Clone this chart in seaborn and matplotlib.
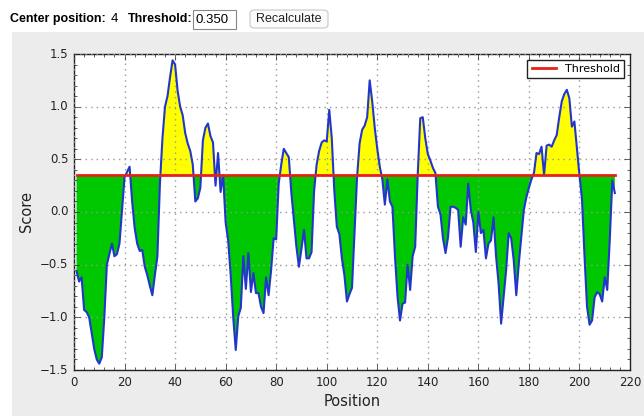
import numpy as np
import pandas as pd
import matplotlib
matplotlib.use("Agg")
import matplotlib.pyplot as plt
from matplotlib.patches import Rectangle, FancyBboxPatch
from matplotlib.ticker import AutoMinorLocator
import seaborn as sns

center_position = 4
threshold = 0.35

positions = list(range(1, 215))
scores = [
    -0.56, -0.66, -0.62, -0.93, -0.95, -1.00, -1.15, -1.30, -1.40, -1.44,
    -1.38, -1.00, -0.50, -0.40, -0.30, -0.42, -0.40, -0.30, 0.02, 0.33,
    0.38, 0.43, 0.10, -0.15, -0.30, -0.37, -0.36, -0.52, -0.60, -0.70,
    -0.79, -0.60, -0.42, 0.27, 0.70, 1.00, 1.10, 1.28, 1.44, 1.40,
    1.15, 1.00, 0.92, 0.75, 0.65, 0.58, 0.45, 0.10, 0.13, 0.23,
    0.68, 0.80, 0.84, 0.72, 0.66, 0.25, 0.56, 0.19, 0.35, -0.10,
    -0.27, -0.60, -1.00, -1.31, -0.99, -0.91, -0.42, -0.73, -0.39, -0.76,
    -0.58, -0.77, -0.77, -0.90, -0.96, -0.62, -0.79, -0.55, -0.25, -0.26,
    0.27, 0.45, 0.60, 0.56, 0.52, 0.18, -0.08, -0.33, -0.52, -0.35,
    -0.17, -0.44, -0.44, -0.38, 0.20, 0.45, 0.58, 0.66, 0.68, 0.67,
    0.97, 0.70, 0.20, -0.14, -0.21, -0.44, -0.60, -0.85, -0.78, -0.72,
    -0.20, 0.33, 0.65, 0.78, 0.82, 0.90, 1.25, 1.05, 0.80, 0.60,
    0.43, 0.31, 0.07, 0.31, 0.10, 0.05, -0.42, -0.80, -1.03, -0.87,
    -0.86, -0.50, -0.74, -0.42, -0.33, 0.35, 0.89, 0.90, 0.70, 0.55,
    0.49, 0.42, 0.37, 0.05, -0.02, -0.25, -0.39, -0.24, 0.05, 0.05,
    0.04, 0.02, -0.33, -0.05, -0.12, 0.27, 0.02, -0.10, -0.38, 0.00,
    -0.20, -0.17, -0.44, -0.30, -0.27, -0.05, -0.42, -0.68, -1.06, -0.81,
    -0.55, -0.20, -0.25, -0.46, -0.79, -0.49, -0.24, 0.02, 0.14, 0.23,
    0.31, 0.37, 0.56, 0.55, 0.62, 0.35, 0.63, 0.64, 0.62, 0.68,
    0.73, 0.90, 1.05, 1.12, 1.16, 1.08, 0.81, 0.86, 0.60, 0.35,
    0.12, -0.42, -0.90, -1.07, -1.03, -0.81, -0.76, -0.78, -0.85, -0.62,
    -0.74, -0.26, 0.30, 0.18,
]
x_ticks = list(range(0, 221, 20))
y_ticks = [-1.5, -1.0, -0.5, 0.0, 0.5, 1.0, 1.5]

df = pd.DataFrame({"Position": positions, "Score": scores})
df["Threshold"] = threshold

plt.style.use("classic")
W, H = 644, 416
fig = plt.figure(figsize=(W / 100, H / 100), dpi=100, facecolor="white")

# gray panel behind the chart
fig.patches.append(Rectangle((12 / W, 0), 1 - 12 / W, (H - 32) / H,
                             transform=fig.transFigure, facecolor="#ececec",
                             edgecolor="none", zorder=-5))

ax = fig.add_axes([74 / W, 1 - 370 / H, (630 - 74) / W, (370 - 54) / H])
ax.set_zorder(1)
ax.set_facecolor("white")

xv = df["Position"].to_numpy()
yv = df["Score"].to_numpy()
ax.fill_between(xv, yv, threshold, where=yv >= threshold, interpolate=True,
                color="#ffff00", linewidth=0, zorder=1)
ax.fill_between(xv, yv, threshold, where=yv <= threshold, interpolate=True,
                color="#00c800", linewidth=0, zorder=1)
sns.lineplot(data=df, x="Position", y="Score", ax=ax, color="#2236cc",
             linewidth=1.5, zorder=3, legend=False)
sns.lineplot(data=df, x="Position", y="Threshold", ax=ax, color="#e8201a",
             linewidth=2, zorder=4, label="Threshold")

ax.set_xlim(0, 220)
ax.set_ylim(-1.5, 1.5)
ax.set_xticks(x_ticks)
ax.set_yticks(y_ticks)
ax.xaxis.set_minor_locator(AutoMinorLocator(5))
ax.yaxis.set_minor_locator(AutoMinorLocator(5))
ax.tick_params(which="both", direction="in", top=True, right=True,
               labelsize=8.5, colors="#222222")
ax.tick_params(which="major", length=4)
ax.tick_params(which="minor", length=2)
ax.grid(True, which="major", linestyle=":", color="#999999", linewidth=1)
ax.set_axisbelow(False)
for s in ax.spines.values():
    s.set_color("#222222")
    s.set_linewidth(1)
ax.set_xlabel("Position", fontsize=10.5, color="#222222", labelpad=4)
ax.set_ylabel("Score", fontsize=10.5, color="#222222", labelpad=4)

leg = ax.legend(loc="upper right", fontsize=8, frameon=True, fancybox=False,
                handlelength=2.2, borderpad=0.4, numpoints=1)
leg.get_frame().set_edgecolor("#222222")
leg.get_frame().set_linewidth(1)

# header controls
hf = ["Liberation Sans", "DejaVu Sans"]
ty = 1 - 19 / H
fig.text(10 / W, ty, "Center position:", fontsize=9, fontweight="bold",
         family=hf, va="center", ha="left")
fig.text(111 / W, ty, str(center_position), fontsize=9.5, family=hf,
         va="center", ha="left")
fig.text(128 / W, ty, "Threshold:", fontsize=9, fontweight="bold",
         family=hf, va="center", ha="left")
fig.patches.append(Rectangle((193 / W, 1 - 29 / H), 43 / W, 19 / H,
                             transform=fig.transFigure, facecolor="white",
                             edgecolor="#888888", linewidth=0.8))
fig.text(196 / W, 1 - 20 / H, f"{threshold:.3f}", fontsize=9.5, family=hf,
         va="center", ha="left")
fig.patches.append(FancyBboxPatch((250 / W, 1 - 28 / H), 78 / W, 18 / H,
                                  boxstyle="round,pad=0,rounding_size=0.008",
                                  transform=fig.transFigure, facecolor="#fbfbfb",
                                  edgecolor="#c8c8c8", linewidth=0.8))
fig.text(289 / W, ty, "Recalculate", fontsize=9, family=hf, va="center",
         ha="center", color="#222222")

fig.savefig("out.png", dpi=100, facecolor="white")
